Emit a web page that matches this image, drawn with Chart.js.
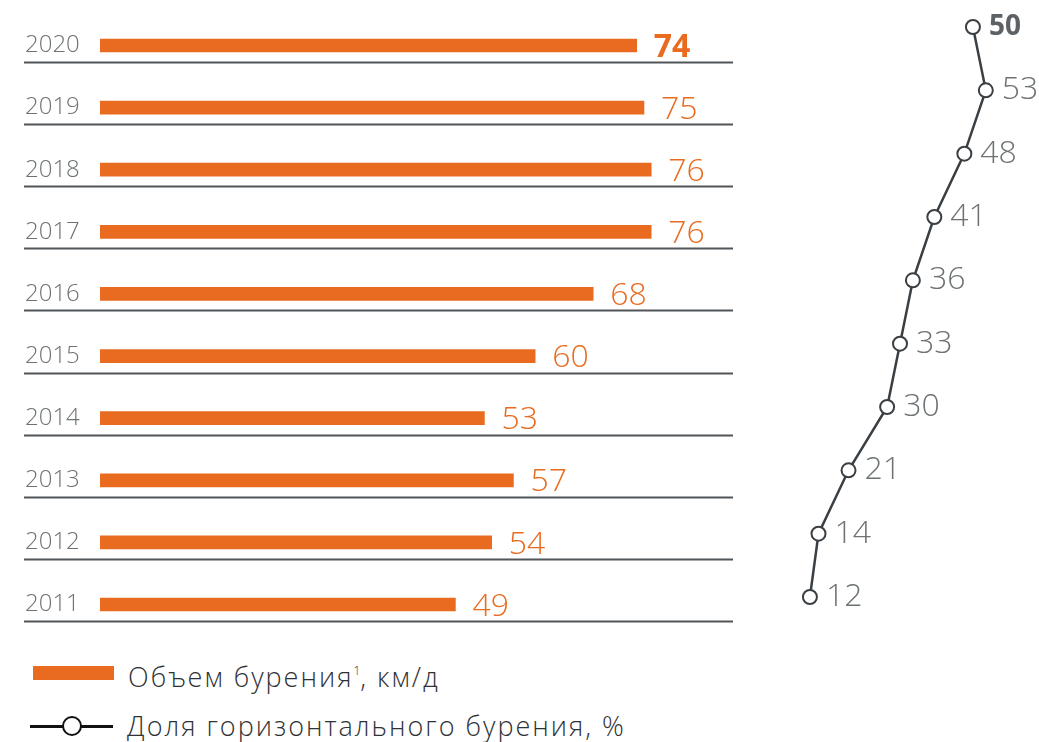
<!DOCTYPE html>
<html>
<head>
<meta charset="utf-8">
<script src="https://cdn.jsdelivr.net/npm/chart.js@4/dist/chart.umd.min.js"></script>
<style>
  html, body { margin: 0; padding: 0; background: #fff; }
  #wrap { position: relative; width: 1039px; height: 742px; overflow: hidden; font-family: "Open Sans", sans-serif; }
  #bars { position: absolute; left: 0; top: 0; }
  #share { position: absolute; left: 740px; top: 0; }
  .lg-text { position: absolute; font-weight: 300; font-size: 27px; color: #2f3235; line-height: 30px; letter-spacing: 2px; white-space: nowrap; }
  .lg-text sup { font-size: 12px; vertical-align: 12px; line-height: 0; letter-spacing: 0; }
</style>
</head>
<body>
<div id="wrap">
  <canvas id="bars" width="760" height="650"></canvas>
  <canvas id="share" width="299" height="650"></canvas>

  <div style="position:absolute;left:33px;top:666px;width:81px;height:14px;background:#E96B1F"></div>
  <div class="lg-text" style="left:128px;top:662px">Объем бурения<sup>1</sup>, км/д</div>

  <div style="position:absolute;left:30px;top:725px;width:83px;height:3px;background:#111"></div>
  <div style="position:absolute;left:62px;top:716px;width:20px;height:20px;box-sizing:border-box;border:2.5px solid #111;border-radius:50%;background:#fff"></div>
  <div class="lg-text" style="left:127px;top:711px">Доля горизонтального бурения, %</div>
</div>

<script>
// данные
const years = ["2020", "2019", "2018", "2017", "2016", "2015", "2014", "2013", "2012", "2011"];
const drillingKm = [74, 75, 76, 76, 68, 60, 53, 57, 54, 49];
const horizontalShare = [50, 53, 48, 41, 36, 33, 30, 21, 14, 12];

const ORANGE = "#E96B1F";
const DARK = "#3a3f44";
const GREY = "#6d7275";

// подписи и разделители для столбцов
const barExtras = {
  id: "barExtras",
  afterDraw(chart) {
    const ctx = chart.ctx;
    const yScale = chart.scales.y;
    const meta = chart.getDatasetMeta(0);
    ctx.save();
    // линии под каждой строкой
    ctx.strokeStyle = "#505559";
    ctx.lineWidth = 2;
    years.forEach((y, i) => {
      const py = Math.round(yScale.getPixelForValue(i) + 16.5) + 0.5;
      ctx.beginPath();
      ctx.moveTo(24, py);
      ctx.lineTo(733, py);
      ctx.stroke();
    });
    // значения
    ctx.fillStyle = ORANGE;
    ctx.textAlign = "left";
    ctx.textBaseline = "middle";
    meta.data.forEach((bar, i) => {
      ctx.font = (i === 0 ? "700 " : "300 ") + "32px 'Open Sans'";
      ctx.fillText(String(drillingKm[i]), bar.x + 17, bar.y + 2);
    });
    ctx.restore();
  }
};

new Chart(document.getElementById("bars"), {
  type: "bar",
  data: {
    labels: years,
    datasets: [{
      label: "Объем бурения, км/д",
      data: drillingKm,
      backgroundColor: ORANGE,
      barThickness: 13,
      borderWidth: 0
    }]
  },
  options: {
    responsive: false,
    animation: false,
    indexAxis: "y",
    layout: { autoPadding: false, padding: { top: 14, bottom: 13, left: 25, right: 0 } },
    plugins: { legend: { display: false }, tooltip: { enabled: false } },
    scales: {
      x: { display: false, min: 0, max: 91 },
      y: {
        grid: { display: false },
        border: { display: false },
        ticks: {
          crossAlign: "far",
          padding: 0,
          color: GREY,
          font: { family: "Open Sans", size: 24, weight: 300 }
        },
        afterFit(scale) { scale.width = 75; }
      }
    }
  },
  plugins: [barExtras]
});

// подписи для линии
const lineLabels = {
  id: "lineLabels",
  afterDraw(chart) {
    const ctx = chart.ctx;
    const meta = chart.getDatasetMeta(0);
    ctx.save();
    ctx.textAlign = "left";
    ctx.textBaseline = "middle";
    meta.data.forEach((pt, i) => {
      if (i === 0) {
        ctx.font = "700 28px 'Open Sans'";
        ctx.fillStyle = "#5d6266";
      } else {
        ctx.font = "300 32px 'Open Sans'";
        ctx.fillStyle = GREY;
      }
      ctx.fillText(String(horizontalShare[i]), pt.x + 16, pt.y);
    });
    ctx.restore();
  }
};

new Chart(document.getElementById("share"), {
  type: "line",
  data: {
    datasets: [{
      label: "Доля горизонтального бурения, %",
      data: horizontalShare.map((v, i) => ({ x: v, y: Number(years[i]) })),
      borderColor: DARK,
      borderWidth: 2.5,
      pointRadius: 7,
      pointBorderWidth: 2,
      pointBackgroundColor: "#fff",
      pointBorderColor: DARK,
      tension: 0,
      clip: false
    }]
  },
  options: {
    responsive: false,
    animation: false,
    layout: { autoPadding: false, padding: 0 },
    plugins: { legend: { display: false }, tooltip: { enabled: false } },
    scales: {
      x: { type: "linear", display: false, min: -4.3, max: 65.4 },
      y: { type: "linear", display: false, min: 2010.163, max: 2020.426 }
    }
  },
  plugins: [lineLabels]
});
</script>
</body>
</html>
